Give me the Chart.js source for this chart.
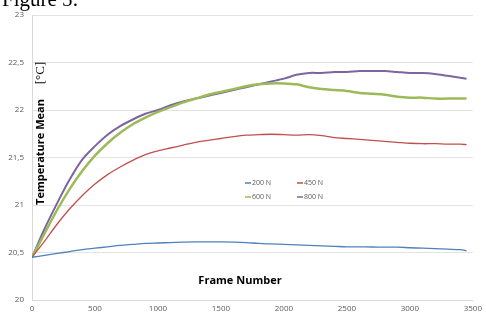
<!DOCTYPE html>
<html>
<head>
<meta charset="utf-8">
<script src="https://cdn.jsdelivr.net/npm/chart.js@4.4.0/dist/chart.umd.min.js"></script>
<style>
  html, body { margin: 0; padding: 0; background: #fff; overflow: hidden; }
  #wrap { position: relative; width: 486px; height: 317px; }
  #fig { position: absolute; left: 2px; top: -13px; font: 21px "Liberation Serif", serif; color: #000; }
</style>
</head>
<body>
<div id="wrap">
  <canvas id="chart" width="486" height="317"></canvas>
  <div id="fig">Figure 5:</div>
</div>
<script>
// frame numbers (x) shared by all series
const frames = [0, 100, 200, 300, 400, 500, 600, 700, 800, 900, 1000, 1100, 1200, 1300, 1400, 1500, 1600, 1700,
  1800, 1900, 2000, 2100, 2200, 2300, 2400, 2500, 2600, 2700, 2800, 2900, 3000, 3100, 3200, 3300, 3400, 3450];

const seriesLabels = ['200 N', '450 N', '600 N', '800 N'];
const seriesColors = ['#4f81bd', '#c0504d', '#9bbb59', '#8064a2'];

const temp200 = [20.45, 20.47, 20.49, 20.51, 20.53, 20.545, 20.56, 20.575, 20.585, 20.595, 20.60, 20.605, 20.61, 20.612,
  20.612, 20.612, 20.61, 20.605, 20.595, 20.59, 20.585, 20.58, 20.575, 20.57, 20.565, 20.56, 20.56, 20.558, 20.556,
  20.556, 20.55, 20.545, 20.54, 20.535, 20.53, 20.52];
const temp450 = [20.45, 20.62, 20.80, 20.96, 21.10, 21.22, 21.32, 21.40, 21.47, 21.53, 21.57, 21.60, 21.63, 21.66,
  21.68, 21.70, 21.72, 21.735, 21.74, 21.745, 21.74, 21.735, 21.74, 21.73, 21.71, 21.70, 21.69, 21.68, 21.67, 21.66,
  21.65, 21.645, 21.645, 21.64, 21.64, 21.635];
const temp600 = [20.45, 20.70, 20.95, 21.17, 21.36, 21.52, 21.65, 21.76, 21.85, 21.92, 21.98, 22.03, 22.08, 22.12,
  22.16, 22.19, 22.22, 22.25, 22.27, 22.28, 22.28, 22.27, 22.24, 22.22, 22.21, 22.20, 22.18, 22.17, 22.16, 22.14,
  22.13, 22.13, 22.12, 22.12, 22.12, 22.12];
const temp800 = [20.45, 20.75, 21.02, 21.27, 21.48, 21.62, 21.74, 21.83, 21.90, 21.96, 22.00, 22.05, 22.09, 22.12,
  22.15, 22.18, 22.21, 22.24, 22.27, 22.30, 22.33, 22.37, 22.39, 22.39, 22.40, 22.40, 22.41, 22.41, 22.41, 22.40,
  22.39, 22.39, 22.38, 22.36, 22.34, 22.33];

const seriesValues = [temp200, temp450, temp600, temp800];
const lineWidths = [1.3, 1.3, 2.5, 2];

const xTicks = [0, 500, 1000, 1500, 2000, 2500, 3000, 3500];
const yTicks = [20, 20.5, 21, 21.5, 22, 22.5, 23];

const datasets = seriesLabels.map((label, i) => ({
  label: label,
  data: frames.map((f, j) => ({ x: f, y: seriesValues[i][j] })),
  borderColor: seriesColors[i],
  backgroundColor: seriesColors[i],
  borderWidth: lineWidths[i],
  pointRadius: 0,
  tension: 0.3,
  fill: false
}));
// purple drawn on top
datasets[3].order = 0;

// axis titles and legend sit inside the plot area, so draw them by hand
const innerText = {
  id: 'innerText',
  afterDraw(chart) {
    const ctx = chart.ctx;
    const area = chart.chartArea;
    ctx.save();
    ctx.fillStyle = '#000';
    ctx.textBaseline = 'middle';
    // y title
    ctx.save();
    ctx.translate(area.left + 9, 152);
    ctx.rotate(-Math.PI / 2);
    ctx.textAlign = 'center';
    ctx.font = 'bold 11px "Open Sans", sans-serif';
    ctx.fillText('Temperature Mean', 0, 0);
    ctx.font = '13px "Liberation Serif", serif';
    ctx.fillText('[°C]', 79, 0);
    ctx.restore();
    // x title
    ctx.textAlign = 'center';
    ctx.font = 'bold 11px "Open Sans", sans-serif';
    ctx.fillText('Frame Number', 240, 281);
    // legend
    ctx.font = '7px "Open Sans", sans-serif';
    ctx.textAlign = 'left';
    const pos = [[245, 183], [297, 183], [245, 197], [297, 197]];
    chart.data.datasets.forEach((ds, i) => {
      const [lx, ly] = pos[i];
      ctx.strokeStyle = ds.borderColor;
      ctx.lineWidth = 1.5;
      ctx.beginPath();
      ctx.moveTo(lx, ly);
      ctx.lineTo(lx + 6, ly);
      ctx.stroke();
      ctx.fillStyle = '#595959';
      ctx.fillText(ds.label, lx + 7, ly);
    });
    ctx.restore();
  }
};

const ctxEl = document.getElementById('chart').getContext('2d');
const chart = new Chart(ctxEl, {
  type: 'line',
  data: { datasets: datasets },
  options: {
    responsive: false,
    animation: false,
    layout: { padding: { top: 15, right: 12, left: 0, bottom: 0 } },
    plugins: { legend: { display: false }, tooltip: { enabled: false } },
    scales: {
      x: {
        type: 'linear',
        min: 0, max: 3500,
        afterBuildTicks: (s) => { s.ticks = xTicks.map(v => ({ value: v })); },
        afterFit: (s) => { s.height = 17; },
        grid: { display: false, drawTicks: false },
        border: { color: '#d9d9d9', width: 1 },
        ticks: {
          color: '#595959', padding: 4, maxRotation: 0,
          font: { family: 'Open Sans', size: 8 },
          callback: (v) => String(v)
        }
      },
      y: {
        min: 20, max: 23,
        afterBuildTicks: (s) => { s.ticks = yTicks.map(v => ({ value: v })); },
        afterFit: (s) => { s.width = 32; },
        grid: { color: '#e3e3e3', drawTicks: false },
        border: { color: '#d9d9d9', width: 1 },
        ticks: {
          color: '#595959', padding: 8,
          font: { family: 'Open Sans', size: 8 },
          callback: (v) => String(v).replace('.', ',')
        }
      }
    }
  },
  plugins: [innerText]
});
</script>
</body>
</html>
